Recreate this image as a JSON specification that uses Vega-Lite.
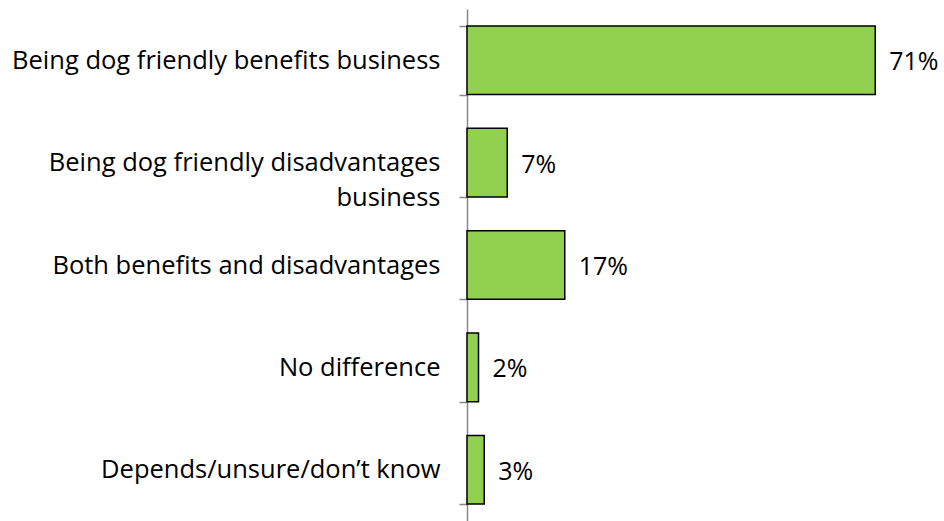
{
  "$schema": "https://vega.github.io/schema/vega-lite/v6.json",
  "autosize": "none",
  "width": 460,
  "height": 512,
  "padding": {"left": 467, "top": 9, "right": 17, "bottom": 0},
  "background": "white",
  "config": {"view": {"stroke": null}, "font": "Open Sans"},
  "data": {"values": [
    {"category": "Being dog friendly benefits business", "value": 0.71},
    {"category": "Being dog friendly disadvantages|business", "value": 0.07},
    {"category": "Both benefits and disadvantages", "value": 0.17},
    {"category": "No difference", "value": 0.02},
    {"category": "Depends/unsure/don’t know", "value": 0.03}
  ]},
  "encoding": {
    "y": {"field": "category", "type": "nominal", "sort": null,
      "scale": {"paddingInner": 0.33, "paddingOuter": 0.165},
      "axis": {"title": null, "labelExpr": "split(datum.label, '|')", "labelFontSize": 25.5, "labelColor": "#000000", "labelPadding": 19, "labelLimit": 0, "labelLineHeight": 35, "domainColor": "#888888", "domainWidth": 1.5, "tickColor": "#888888", "tickWidth": 1.5, "tickSize": 8, "tickBand": "extent", "grid": false}},
    "x": {"field": "value", "type": "quantitative", "scale": {"domain": [0, 0.8]}, "axis": null}
  },
  "layer": [
    {"mark": {"type": "bar", "color": "#92D050", "stroke": "#000000", "strokeWidth": 1.5}},
    {"mark": {"type": "text", "align": "left", "dx": 14, "dy": 2, "fontSize": 25, "color": "#000000"},
     "encoding": {"text": {"field": "value", "type": "quantitative", "format": ".0%"}}}
  ]
}
